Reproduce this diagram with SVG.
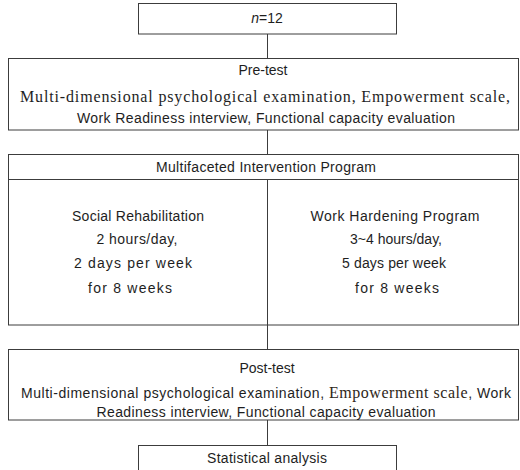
<svg xmlns="http://www.w3.org/2000/svg" width="520" height="470" viewBox="0 0 520 470">
<style>
.box{fill:#fff;stroke:#3c3c3c;stroke-width:1}
.ln{stroke:#3c3c3c;stroke-width:1;fill:none}
.s{font-family:"Liberation Sans",Arial,sans-serif;font-size:14px;fill:#1e1e1e;text-anchor:middle}
.r{font-family:"Liberation Serif","Times New Roman",serif;font-size:16px;fill:#1e1e1e;text-anchor:middle}
.rs{font-family:"Liberation Serif","Times New Roman",serif;font-size:16px;fill:#2e2618}
</style>
<rect width="520" height="470" fill="#fff"/>
<g id="connectors">
<line class="ln" x1="267.5" y1="34" x2="267.5" y2="58"/>
<line class="ln" x1="267.5" y1="130" x2="267.5" y2="154"/>
<line class="ln" x1="267.5" y1="325" x2="267.5" y2="349"/>
<line class="ln" x1="267.5" y1="420" x2="267.5" y2="445"/>
</g>
<g id="n12">
<rect class="box" x="138.5" y="3.5" width="258" height="30.5"/>
<text class="s" x="267" y="23"><tspan font-style="italic">n</tspan>=12</text>
</g>
<g id="pretest">
<rect class="box" x="8.5" y="58.5" width="510" height="71.5"/>
<text class="s" x="263" y="75" font-size="13">Pre-test</text>
<text class="r" x="265" y="102" textLength="490" lengthAdjust="spacing">Multi-dimensional psychological examination, Empowerment scale,</text>
<text class="s" x="266" y="123" textLength="378" lengthAdjust="spacing">Work Readiness interview, Functional capacity evaluation</text>
</g>
<g id="intervention">
<rect class="box" x="8.5" y="154.5" width="510" height="170.5"/>
<line class="ln" x1="8.5" y1="179.5" x2="518.5" y2="179.5"/>
<line class="ln" x1="267.5" y1="179.5" x2="267.5" y2="325"/>
<text class="s" x="266" y="172" textLength="220" lengthAdjust="spacing">Multifaceted Intervention Program</text>
<text class="s" x="138" y="221" textLength="132" lengthAdjust="spacing">Social Rehabilitation</text>
<text class="s" x="137" y="244" textLength="81" lengthAdjust="spacing">2 hours/day,</text>
<text class="s" x="133" y="268" textLength="118" lengthAdjust="spacing">2 days per week</text>
<text class="s" x="130" y="293" textLength="84" lengthAdjust="spacing">for 8 weeks</text>
<text class="s" x="395" y="221" textLength="169" lengthAdjust="spacing">Work Hardening Program</text>
<text class="s" x="396" y="244" textLength="92" lengthAdjust="spacing">3~4 hours/day,</text>
<text class="s" x="394" y="268" textLength="104" lengthAdjust="spacing">5 days per week</text>
<text class="s" x="397" y="293" textLength="84" lengthAdjust="spacing">for 8 weeks</text>
</g>
<g id="posttest">
<rect class="box" x="8.5" y="349.5" width="510" height="70.5"/>
<text class="s" x="267" y="373">Post-test</text>
<text class="s" x="266" y="398" textLength="490" lengthAdjust="spacing">Multi-dimensional psychological examination, <tspan class="rs">Empowerment scale</tspan>, Work</text>
<text class="s" x="266" y="417" textLength="339" lengthAdjust="spacing">Readiness interview, Functional capacity evaluation</text>
</g>
<g id="stats">
<rect class="box" x="138.5" y="445.5" width="258" height="30"/>
<text class="s" x="267" y="463" textLength="120" lengthAdjust="spacing">Statistical analysis</text>
</g>
</svg>
